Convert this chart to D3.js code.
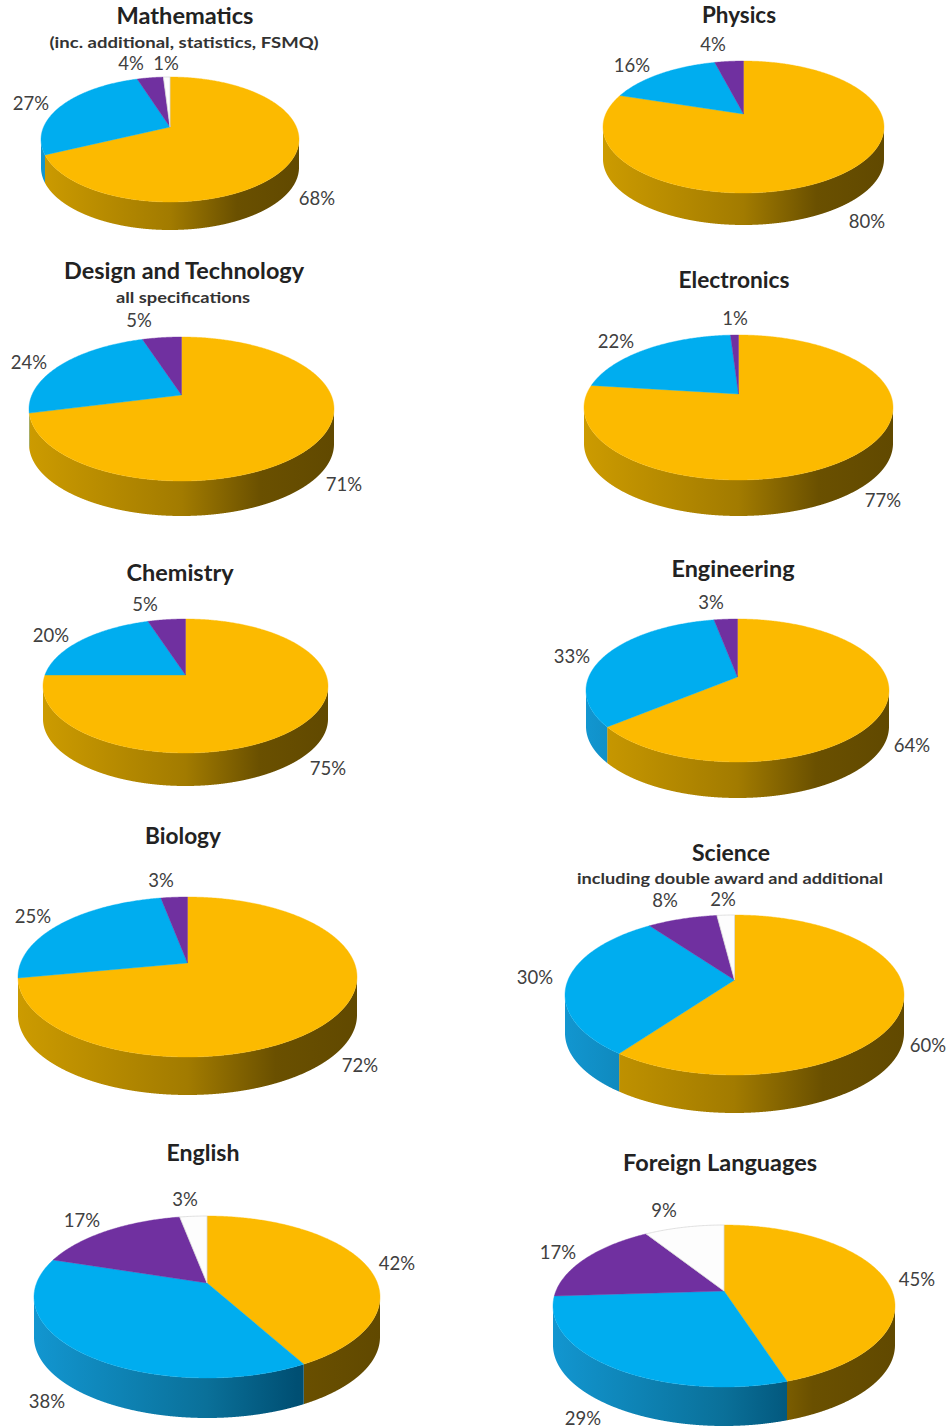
<!DOCTYPE html>
<html><head><meta charset="utf-8">
<script src="https://cdn.jsdelivr.net/npm/d3@7"></script>
<style>html,body{margin:0;padding:0;background:#fff}svg{display:block}</style>
</head><body><svg id="c" width="952" height="1428"></svg>
<script>
// ---- data ----
const subjects = ["Mathematics","Physics","Design and Technology","Electronics","Chemistry","Engineering","Biology","Science","English","Foreign Languages"];
const subtitles = ["(inc. additional, statistics, FSMQ)","","all specifications","","","","","including double award and additional","",""];
const goldShare   = [68,80,71,77,75,64,72,60,42,45];
const blueShare   = [27,16,24,22,20,33,25,30,38,29];
const purpleShare = [ 4, 4, 5, 1, 5, 3, 3, 8,17,17];
const whiteShare  = [ 1, 0, 0, 0, 0, 0, 0, 2, 3, 9];

// ---- layout, kept apart from the data ----
// left, right, top, face bottom, apex y, wall depth
const pieBox = [
 [41,299,77,202,127,28],[603,884,61,193,114,32],[29,334,337,481,395,35],[584,893,335,480,394,36],
 [43,328,619,753,675,33],[586,889,619,762,677,36],[18,357,897,1057,963,38],[565,904,915,1075,980,38],
 [34,380,1216,1378,1283,40],[553,895,1225,1387,1291,39]];
// title x, baseline, width
const titleBox = [[185,24,137],[739,23,74],[184,279,240],[734,288,111],[180,581,107],[733,577,123],[183,844,76],[731,861,78],[203,1161,73],[720,1171,194]];
const subBox = [[184,48,269],null,[183,303,134],null,null,null,null,[730,884,306],null,null];
// label x, baseline per slice: gold, blue, purple, white
const labelBox = [
 [[317,205],[31,110],[131,69.5],[166,69.5]],
 [[867,228],[632,72],[713,51],null],
 [[344,491],[29,369],[139,327],null],
 [[883,507],[616,348],[735,325],null],
 [[328,775],[51,642],[145,611],null],
 [[912,752],[572,663],[711,609],null],
 [[360,1072],[33,923],[161,887],null],
 [[928,1052],[535,984],[665,907],[723,905.5]],
 [[397,1270],[47,1408],[82,1227],[185,1206]],
 [[917,1286],[583,1425],[558,1259],[664,1217]]];
const fills = ["#FCBA00","#00ADEF","#7030A0","#FDFDFD"];
const wallStops = [
 ["#CC9B00","#A27B00","#6A5000","#614900"],
 ["#1296D0","#0A7099","#004F73","#00486A"],
 ["#5A2480","#4A1D6A","#3A1652","#341449"],
 ["#EEEEEE","#DDDDDD","#CCCCCC","#C4C4C4"]];
const stopAt = [0,0.5,0.76,1];

const svg = d3.select("#c");
const defs = svg.append("defs");
const pieGen = d3.pie().sort(null).value(d=>d);

subjects.forEach((name,i)=>{
  const [L,R,T,B,apex,depth] = pieBox[i];
  const X = d3.scaleLinear().domain([-1,1]).range([L,R]);
  const Y = d3.scaleLinear().domain([-1,1]).range([T,B]);
  const e = Y.invert(apex);            // perspective shift of the hub
  const k = Math.sqrt(1-e*e);
  const project = a => {               // disc angle -> unit ellipse
    const u = Math.sin(a), v = -Math.cos(a), w = 1+e*v;
    return [u*k/w, (v+e)/w];
  };
  const line = d3.line();
  const g = svg.append("g");
  const shares = [goldShare[i],blueShare[i],purpleShare[i],whiteShare[i]];
  const arcs = pieGen(shares);

  // walls
  arcs.forEach((s,j)=>{
    if(!s.value) return;
    const n = Math.ceil((s.endAngle-s.startAngle)/0.002);
    const pts = d3.range(n+1).map(t=>project(s.startAngle+(s.endAngle-s.startAngle)*t/n)).filter(p=>p[1]>=0);
    if(pts.length<2) return;
    const id = `w${i}_${j}`;
    const gr = defs.append("linearGradient").attr("id",id).attr("gradientUnits","userSpaceOnUse")
      .attr("x1",L).attr("x2",R).attr("y1",0).attr("y2",0);
    stopAt.forEach((o,q)=>gr.append("stop").attr("offset",o).attr("stop-color",wallStops[j][q]));
    const top = pts.map(p=>[X(p[0]),Y(p[1])]);
    const bot = top.slice().reverse().map(p=>[p[0],p[1]+depth]);
    g.append("path").attr("d",line(top.concat(bot))+"Z").attr("fill",`url(#${id})`);
  });

  // top faces
  arcs.forEach((s,j)=>{
    if(!s.value) return;
    const n = Math.ceil((s.endAngle-s.startAngle)/0.01);
    const rim = d3.range(n+1).map(t=>project(s.startAngle+(s.endAngle-s.startAngle)*t/n));
    const poly = [[X(0),apex]].concat(rim.map(p=>[X(p[0]),Y(p[1])]));
    g.append("path").attr("d",line(poly)+"Z").attr("fill",fills[j])
      .attr("stroke",j===3?"#D8D8D8":fills[j]).attr("stroke-width",j===3?0.8:0.4);
  });

  // slice labels
  shares.forEach((v,j)=>{
    if(!v) return;
    const [lx,ly] = labelBox[i][j];
    g.append("text").attr("x",lx).attr("y",ly).attr("text-anchor","middle")
      .attr("font-family","Lato").attr("font-size",18.5).attr("fill","#404040").text(v+"%");
  });

  // titles
  const [tx,ty,tw] = titleBox[i];
  g.append("text").attr("x",tx).attr("y",ty).attr("text-anchor","middle")
    .attr("font-family","Lato").attr("font-weight",700).attr("font-size",23).attr("fill","#222")
    .attr("textLength",tw).attr("lengthAdjust","spacingAndGlyphs").text(name);
  if(subtitles[i]){
    const [sx,sy,sw] = subBox[i];
    g.append("text").attr("x",sx).attr("y",sy).attr("text-anchor","middle")
      .attr("font-family","Lato").attr("font-weight",700).attr("font-size",15).attr("fill","#333")
      .attr("textLength",sw).attr("lengthAdjust","spacingAndGlyphs").text(subtitles[i]);
  }
});
</script></body></html>
